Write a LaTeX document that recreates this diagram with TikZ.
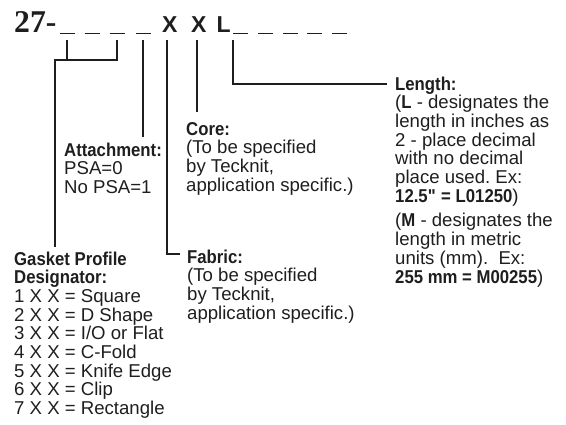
\documentclass[tikz,border=0pt]{standalone}
\usepackage{fontspec}
\setmainfont{Liberation Sans}[BoldFeatures={FakeStretch=0.9}]
\newfontfamily\titleserif{Liberation Serif}
\newfontfamily\codefont{Liberation Sans}
\usetikzlibrary{calc}
\definecolor{pink}{HTML}{1E1E1E}

\tikzset{
  lead/.style={draw=pink, line width=1.3pt},
  blank/.style={draw=pink, line width=1.4pt},
  desc/.style={anchor=base west, inner sep=0pt, align=left, text=pink,
    font=\fontsize{18.6}{18.7}\selectfont},
  code/.style={anchor=base west, inner sep=0pt, text=pink,
    font=\fontsize{23}{23}\selectfont\codefont\bfseries},
}

\begin{document}
\begin{tikzpicture}[x=1pt, y=-1pt]
  \useasboundingbox (0,0) rectangle (566,424);

  % part number
  \node[code, font=\fontsize{31.7}{32}\selectfont\titleserif\bfseries] (pn) at (14,32) {27-};
  \node[code] (x1) at (162,32) {X};
  \node[code] (x2) at (191,32) {X};
  \node[code] (xl) at (216.5,32) {L};
  \foreach \c in {67,92,117,143}
    \draw[blank] (\c-7.5,33.5) -- (\c+7.5,33.5);
  \foreach \s in {233,258,283,307,332}
    \draw[blank] (\s,33.5) -- (\s+15,33.5);

  % tick starts under the blanks and letters
  \coordinate (d1) at (67,40);
  \coordinate (d3) at (117,40);
  \coordinate (d4) at (143,40);
  \coordinate (v1) at (167,40);
  \coordinate (v2) at (197,40);
  \coordinate (v3) at (233,40);
  \coordinate (brk) at (55,60);

  % first baselines of the descriptions (nodes sit on their last line)
  \coordinate (gaskethd) at (14,265);
  \coordinate (attachhd) at (64,156);
  \coordinate (corehd) at (186,135);
  \coordinate (fabrichd) at (187,263);
  \coordinate (lengthhd) at (395,90);

  % descriptions
  \node[desc] (gasket) at ($(gaskethd)+(0,8*18.7)$) {\textbf{Gasket Profile}\\\textbf{Designator:}\\
    1 X X = Square\\2 X X = D Shape\\3 X X = I/O or Flat\\4 X X = C-Fold\\
    5 X X = Knife Edge\\6 X X = Clip\\7 X X = Rectangle};
  \node[desc] (attach) at ($(attachhd)+(0,2*18.7)$) {\textbf{Attachment:}\\PSA=0\\No PSA=1};
  \node[desc] (core) at ($(corehd)+(0,3*18.7)$) {\textbf{Core:}\\(To be specified\\by Tecknit,\\application specific.)};
  \node[desc] (fabric) at ($(fabrichd)+(0,3*18.7)$) {\textbf{Fabric:}\\(To be specified\\by Tecknit,\\application specific.)};
  \node[desc] (length) at ($(lengthhd)+(0,10*18.7+6)$) {\textbf{Length:}\\(\textbf{L} - designates the\\length in inches as\\
    2 - place decimal\\with no decimal\\place used.\ Ex:\\\textbf{12.5\textquotedbl\ = L01250})\\[6pt]
    (\textbf{M} - designates the\\length in metric\\units (mm).\ \ Ex:\\\textbf{255 mm = M00255})};

  % leaders
  \draw[lead] (d1) -- (d1 |- brk);
  \draw[lead] (d3) |- (brk) -- ($(brk |- gaskethd)+(0,-18)$);
  \draw[lead] (d4) -- ($(d4 |- attachhd)+(0,-19)$);
  \draw[lead] (v2) -- ($(v2 |- corehd)+(0,-23)$);
  \draw[lead, shorten >=7pt] (v1) |- ($(fabrichd)+(0,-9)$);
  \draw[lead, shorten >=8pt] (v3) |- ($(lengthhd)+(0,-6)$);
\end{tikzpicture}
\end{document}
